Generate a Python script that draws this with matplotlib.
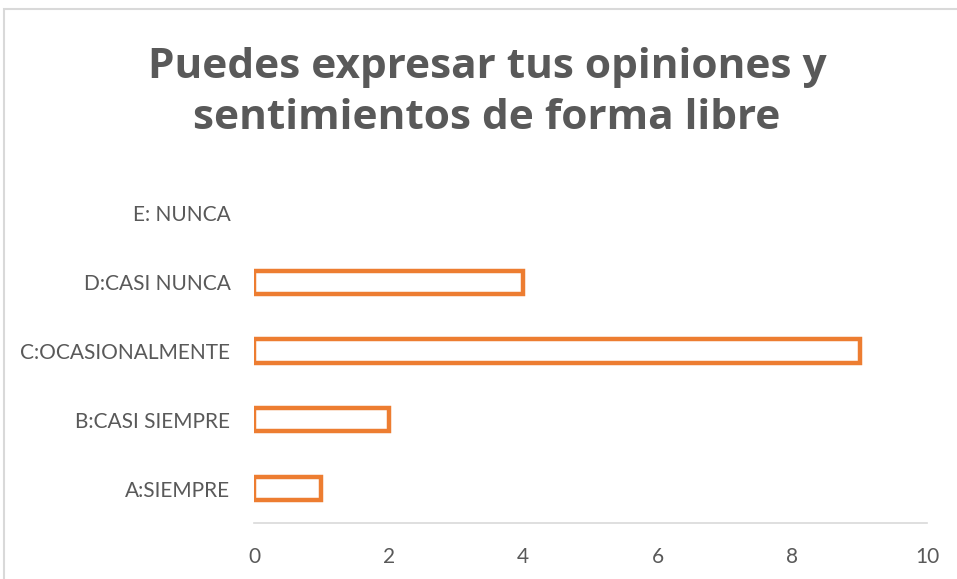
import matplotlib.pyplot as plt
from matplotlib.patches import Rectangle

categories = ["A:SIEMPRE", "B:CASI SIEMPRE", "C:OCASIONALMENTE", "D:CASI NUNCA", "E: NUNCA"]
values = [1, 2, 9, 4, 0]
xticks = [0, 2, 4, 6, 8, 10]

W, H = 957, 579
fig = plt.figure(figsize=(W / 100, H / 100), dpi=100)
fig.patches.append(Rectangle((4 / W, -0.1), 1.2, 1 - 9 / H + 0.1, transform=fig.transFigure,
                             facecolor="none", edgecolor="#d9d9d9", linewidth=1.5, zorder=-1))

ax = fig.add_axes([254 / W, 56 / H, (927 - 254) / W, (523 - 179) / H])
ax.set_facecolor("none")
y = range(len(categories))
bars = ax.barh(y, values, height=0.34, facecolor="white", edgecolor="#ed7d31", linewidth=3.2)
for b, v in zip(bars, values):
    if v == 0:
        b.set_visible(False)

ax.set_xlim(0, 10)
ax.set_ylim(-0.5, 4.5)
ax.set_xticks(xticks)
ax.set_yticks(list(y))
ax.set_yticklabels(categories)
for s in ["left", "right", "top"]:
    ax.spines[s].set_visible(False)
ax.spines["bottom"].set_color("#d9d9d9")
ax.spines["bottom"].set_linewidth(1.2)
ax.tick_params(axis="both", length=0, labelcolor="#595959", labelsize=15)
ax.tick_params(axis="y", pad=17)
ax.tick_params(axis="x", pad=17)
for lab in ax.get_xticklabels() + ax.get_yticklabels():
    lab.set_family("Lato")

fig.text(487 / W, 1 - 93 / H, "Puedes expresar tus opiniones y\nsentimientos de forma libre",
         ha="center", va="center", fontsize=30.5, fontweight="bold", color="#595959",
         family="Open Sans", linespacing=1.3)

fig.savefig("out.png", dpi=100)
